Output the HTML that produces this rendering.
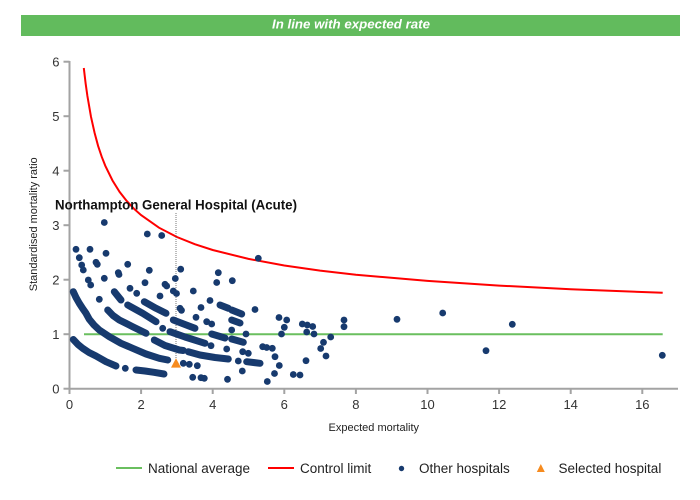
<!DOCTYPE html>
<html><head><meta charset="utf-8"><style>
html,body{margin:0;padding:0;background:#fff;}
body{width:700px;height:500px;overflow:hidden;}
svg{display:block;}
text{font-family:"Liberation Sans",Arial,sans-serif;}
</style></head><body>
<svg width="700" height="500" viewBox="0 0 700 500" xmlns="http://www.w3.org/2000/svg">
<rect x="21" y="15" width="659" height="21" fill="#62bb5d"/>
<text x="272" y="28.5" font-size="13.3" font-weight="bold" font-style="italic" fill="#fff" textLength="158" lengthAdjust="spacingAndGlyphs">In line with expected rate</text>

<g stroke="#a3a3a3" stroke-width="2" fill="none">
<line x1="69.5" y1="61" x2="69.5" y2="389.7"/>
<line x1="68.5" y1="388.7" x2="678" y2="388.7"/>
<line x1="63.5" y1="388.7" x2="69.5" y2="388.7"/>
<line x1="63.5" y1="334.2" x2="69.5" y2="334.2"/>
<line x1="63.5" y1="279.7" x2="69.5" y2="279.7"/>
<line x1="63.5" y1="225.2" x2="69.5" y2="225.2"/>
<line x1="63.5" y1="170.7" x2="69.5" y2="170.7"/>
<line x1="63.5" y1="116.2" x2="69.5" y2="116.2"/>
<line x1="63.5" y1="61.7" x2="69.5" y2="61.7"/>
<line x1="69.5" y1="388.7" x2="69.5" y2="394"/>
<line x1="141.1" y1="388.7" x2="141.1" y2="394"/>
<line x1="212.7" y1="388.7" x2="212.7" y2="394"/>
<line x1="284.3" y1="388.7" x2="284.3" y2="394"/>
<line x1="355.9" y1="388.7" x2="355.9" y2="394"/>
<line x1="427.5" y1="388.7" x2="427.5" y2="394"/>
<line x1="499.1" y1="388.7" x2="499.1" y2="394"/>
<line x1="570.7" y1="388.7" x2="570.7" y2="394"/>
<line x1="642.3" y1="388.7" x2="642.3" y2="394"/>
</g>
<g font-size="13" fill="#333" text-anchor="end">
<text x="59.5" y="393.3">0</text>
<text x="59.5" y="338.8">1</text>
<text x="59.5" y="284.3">2</text>
<text x="59.5" y="229.8">3</text>
<text x="59.5" y="175.3">4</text>
<text x="59.5" y="120.8">5</text>
<text x="59.5" y="66.3">6</text>
</g>
<g font-size="13" fill="#333" text-anchor="middle">
<text x="69.5" y="409">0</text>
<text x="141.1" y="409">2</text>
<text x="212.7" y="409">4</text>
<text x="284.3" y="409">6</text>
<text x="355.9" y="409">8</text>
<text x="427.5" y="409">10</text>
<text x="499.1" y="409">12</text>
<text x="570.7" y="409">14</text>
<text x="642.3" y="409">16</text>
</g>
<text x="373.8" y="431" font-size="11" fill="#222" text-anchor="middle">Expected mortality</text>
<text transform="translate(37,224.3) rotate(-90)" x="0" y="0" font-size="11" fill="#222" text-anchor="middle">Standardised mortality ratio</text>

<line x1="84" y1="334.2" x2="662.7" y2="334.2" stroke="#6abf5f" stroke-width="2"/>
<polyline fill="none" stroke="#ff0000" stroke-width="2" points="83.8,68 85.6,83.2 87.4,96 91,116.8 94.6,132.9 98.1,145.9 101.7,156.7 105.3,165.8 112.5,180.5 119.6,191.9 126.8,201.1 133.9,208.7 141.1,215.1 159,227.7 176.9,237 194.8,244.2 212.7,250 248.5,258.9 284.3,265.5 320.1,270.6 355.9,274.7 427.5,280.9 499.1,285.6 570.7,289.2 662.7,292.8"/>

<line x1="176" y1="213" x2="176" y2="360" stroke="#777" stroke-width="1" stroke-dasharray="1,1"/>

<g fill="none" stroke="#173a6e" stroke-width="7" stroke-linecap="round" stroke-linejoin="round">
<polyline points="73.3,339.5 78,344.5 82.7,348.3 89,352.5 96,356 106,361.7 116,366"/>
<polyline points="73.3,291.7 76,297.5 79.3,303.3 83,309 86,313.3 89.3,319.3 94,325 99.3,330 109.3,336.7 121,343.3 132.7,348.3 146,354 159.3,358.3 167.7,360"/>
<polyline points="136,370 145,371 154,372.3 164,374"/>
<polyline points="107.7,310 113,315.5 119.3,320 132.7,326.7 146,333.3"/>
<polyline points="154.3,340 165,345.5 179.3,350 183.3,350.5"/>
<polyline points="188.3,351.7 200,355 215,357.5 228.3,359"/>
<polyline points="246.7,361.7 260,363.3"/>
<polyline points="114.3,291.7 121,300"/>
<polyline points="127.7,305 142.7,313.3 156,321.7"/>
<polyline points="170,331.7 185,337 205,343.3"/>
<polyline points="144.3,301.7 156,308.3 166,313.3"/>
<polyline points="173.3,320 185,324.5 195,328.3"/>
<polyline points="220,305 228.3,308.3"/>
<polyline points="231.7,310 241.7,314"/>
<polyline points="231.7,320 240,323"/>
<polyline points="211.7,334 225,338"/>
<polyline points="231.7,339 243.3,342.3"/>
</g>

<g fill="#173a6e">
<circle cx="104.3" cy="222.5" r="3.4"/>
<circle cx="147.3" cy="234" r="3.4"/>
<circle cx="161.7" cy="235.5" r="3.4"/>
<circle cx="76" cy="249.3" r="3.4"/>
<circle cx="90" cy="249.3" r="3.4"/>
<circle cx="106" cy="253.3" r="3.4"/>
<circle cx="79.3" cy="257.7" r="3.4"/>
<circle cx="81.7" cy="265" r="3.4"/>
<circle cx="83.3" cy="270" r="3.4"/>
<circle cx="96" cy="262.3" r="3.4"/>
<circle cx="97.3" cy="264.3" r="3.4"/>
<circle cx="127.7" cy="264.3" r="3.4"/>
<circle cx="118.3" cy="272.7" r="3.4"/>
<circle cx="119" cy="274.5" r="3.4"/>
<circle cx="149.3" cy="270.3" r="3.4"/>
<circle cx="180.7" cy="269.2" r="3.4"/>
<circle cx="104.3" cy="278.3" r="3.4"/>
<circle cx="88.3" cy="280" r="3.4"/>
<circle cx="90.7" cy="285" r="3.4"/>
<circle cx="145" cy="282.7" r="3.4"/>
<circle cx="165" cy="284.3" r="3.4"/>
<circle cx="166.7" cy="286" r="3.4"/>
<circle cx="175.3" cy="278.5" r="3.4"/>
<circle cx="130" cy="288.3" r="3.4"/>
<circle cx="136.7" cy="293.3" r="3.4"/>
<circle cx="160" cy="296" r="3.4"/>
<circle cx="173.3" cy="291" r="3.4"/>
<circle cx="176.5" cy="293.5" r="3.4"/>
<circle cx="193.3" cy="291" r="3.4"/>
<circle cx="99.3" cy="299.3" r="3.4"/>
<circle cx="180" cy="308.3" r="3.4"/>
<circle cx="181.5" cy="310.3" r="3.4"/>
<circle cx="201" cy="307.5" r="3.4"/>
<circle cx="210" cy="300.5" r="3.4"/>
<circle cx="218.3" cy="272.7" r="3.4"/>
<circle cx="216.7" cy="282.5" r="3.4"/>
<circle cx="232.3" cy="280.7" r="3.4"/>
<circle cx="258.3" cy="258.3" r="3.4"/>
<circle cx="255" cy="309.5" r="3.4"/>
<circle cx="196" cy="317.3" r="3.4"/>
<circle cx="206.7" cy="321.7" r="3.4"/>
<circle cx="211.7" cy="324" r="3.4"/>
<circle cx="231.7" cy="330" r="3.4"/>
<circle cx="162.7" cy="328.3" r="3.4"/>
<circle cx="211" cy="345.7" r="3.4"/>
<circle cx="246" cy="334" r="3.4"/>
<circle cx="226.7" cy="349" r="3.4"/>
<circle cx="242.7" cy="351.7" r="3.4"/>
<circle cx="248.3" cy="353.3" r="3.4"/>
<circle cx="262.7" cy="346.7" r="3.4"/>
<circle cx="266.7" cy="347.5" r="3.4"/>
<circle cx="272.3" cy="348.3" r="3.4"/>
<circle cx="275" cy="356.7" r="3.4"/>
<circle cx="279.3" cy="365.5" r="3.4"/>
<circle cx="274.5" cy="373.5" r="3.4"/>
<circle cx="267.3" cy="381.5" r="3.4"/>
<circle cx="238.3" cy="361" r="3.4"/>
<circle cx="242.3" cy="371" r="3.4"/>
<circle cx="227.5" cy="379.3" r="3.4"/>
<circle cx="192.7" cy="377.3" r="3.4"/>
<circle cx="201" cy="377.7" r="3.4"/>
<circle cx="204.3" cy="378.3" r="3.4"/>
<circle cx="125.3" cy="368.3" r="3.4"/>
<circle cx="183.3" cy="363.3" r="3.4"/>
<circle cx="189.3" cy="364.3" r="3.4"/>
<circle cx="197.3" cy="365.7" r="3.4"/>
<circle cx="279" cy="317.5" r="3.4"/>
<circle cx="286.7" cy="320" r="3.4"/>
<circle cx="284.3" cy="327.3" r="3.4"/>
<circle cx="281.5" cy="334" r="3.4"/>
<circle cx="293.3" cy="374.5" r="3.4"/>
<circle cx="300" cy="375" r="3.4"/>
<circle cx="302.3" cy="324" r="3.4"/>
<circle cx="307.3" cy="325" r="3.4"/>
<circle cx="312.7" cy="326.5" r="3.4"/>
<circle cx="306.7" cy="332" r="3.4"/>
<circle cx="314" cy="334" r="3.4"/>
<circle cx="306" cy="360.7" r="3.4"/>
<circle cx="330.7" cy="337" r="3.4"/>
<circle cx="323.5" cy="342.3" r="3.4"/>
<circle cx="320.7" cy="348.5" r="3.4"/>
<circle cx="326" cy="356" r="3.4"/>
<circle cx="344" cy="320" r="3.4"/>
<circle cx="344" cy="326.7" r="3.4"/>
<circle cx="397" cy="319.3" r="3.4"/>
<circle cx="442.7" cy="313" r="3.4"/>
<circle cx="486" cy="350.7" r="3.4"/>
<circle cx="512.3" cy="324.3" r="3.4"/>
<circle cx="662.3" cy="355.3" r="3.4"/>
</g>

<polygon points="176,358.3 181,367.6 171,367.6" fill="#f68b1f"/>

<text x="55" y="209.5" font-size="13.5" font-weight="bold" fill="#111" textLength="242" lengthAdjust="spacingAndGlyphs">Northampton General Hospital (Acute)</text>

<line x1="116" y1="468" x2="142" y2="468" stroke="#6abf5f" stroke-width="2"/>
<text x="148" y="472.8" font-size="13.5" fill="#222">National average</text>
<line x1="268" y1="468" x2="294" y2="468" stroke="#ff0000" stroke-width="2"/>
<text x="300" y="472.8" font-size="13.5" fill="#222">Control limit</text>
<circle cx="401.5" cy="468.5" r="2.7" fill="#173a6e"/>
<text x="419" y="472.8" font-size="13.5" fill="#222">Other hospitals</text>
<polygon points="540.8,464 544.8,472 536.8,472" fill="#f68b1f"/>
<text x="558.5" y="472.8" font-size="13.5" fill="#222">Selected hospital</text>
</svg>
</body></html>
